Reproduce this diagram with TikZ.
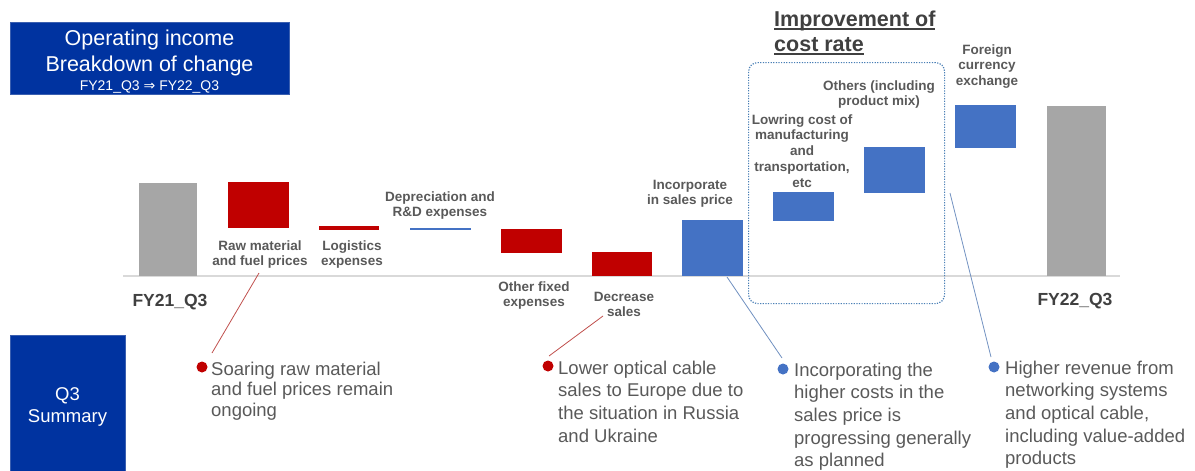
\documentclass[tikz,border=0pt]{standalone}
\usepackage{fontspec}
\setmainfont{Liberation Sans}
\newfontfamily\symfont{DejaVu Sans}
\definecolor{titleblue}{HTML}{0033A0}
\definecolor{titleedge}{HTML}{3A5FB0}
\definecolor{barred}{HTML}{C00000}
\definecolor{barblue}{HTML}{4472C4}
\definecolor{bargray}{HTML}{A6A6A6}
\definecolor{lblgray}{HTML}{595959}
\definecolor{darkgray}{HTML}{404040}
\definecolor{axisgray}{HTML}{D9D9D9}
\definecolor{dotblue}{HTML}{4A7FB5}
\definecolor{leadred}{HTML}{C0504D}
\definecolor{leadblue}{HTML}{7090C0}
\newcommand\ulx[1]{\setbox0\hbox{#1}\rlap{\vrule height -2.2pt depth 3.8pt width \wd0}\box0}
\begin{document}
\begin{tikzpicture}[x=1pt,y=-1pt,
  bar/.style={inner sep=0pt, outer sep=0pt, draw=none, anchor=north west},
  lbl/.style={anchor=base, align=center, text=lblgray, inner sep=0pt, font=\fontsize{13.5}{15.8}\selectfont\bfseries},
  fylbl/.style={anchor=base, text=darkgray, inner sep=0pt, font=\fontsize{17.5}{20}\selectfont\bfseries},
  bodytxt/.style={anchor=base west, align=left, text=lblgray, inner sep=0pt},
  bluebox/.style={fill=titleblue, draw=titleedge, line width=0.8pt, inner sep=0pt, outer sep=0pt, anchor=north west},
  dotred/.style={circle, fill=barred, inner sep=0pt, minimum size=11pt},
  dotblu/.style={circle, fill=barblue, inner sep=0pt, minimum size=11pt},
  leaderred/.style={draw=leadred, line width=0.8pt},
  leaderblue/.style={draw=leadblue, line width=0.8pt}
]
\useasboundingbox (0,0) rectangle (1195,471);

% title box
\node[bluebox, minimum width=279pt, minimum height=72pt] (title) at (10,22) {};
\node[anchor=base, align=center, text=white, inner sep=0pt, font=\fontsize{21.5}{26}\selectfont] (titletext) at (149.5,71) {Operating income\\Breakdown of change};
\node[anchor=base, text=white, inner sep=0pt, font=\fontsize{14}{16}\selectfont] (titlesub) at (149.5,90) {FY21\_Q3 {\symfont ⇒} FY22\_Q3};

% axis
\coordinate (axL) at (123,276);
\coordinate (axR) at (1120,276);
\draw[axisgray, line width=1.5pt] (axL) -- (axR);

% bars
\node[bar, fill=bargray, minimum width=58pt, minimum height=93pt] (fy21) at (139,183) {};
\node[bar, fill=barred, minimum width=61pt, minimum height=46pt] (raw) at (228,182) {};
\node[bar, fill=barred, minimum width=60pt, minimum height=3.5pt] (logi) at (319,226) {};
\node[bar, fill=barblue, minimum width=61pt, minimum height=2pt] (depr) at (410,228) {};
\node[bar, fill=barred, minimum width=61pt, minimum height=24pt] (other) at (501,229) {};
\node[bar, fill=barred, minimum width=60pt, minimum height=24pt] (decr) at (592,252) {};
\node[bar, fill=barblue, minimum width=61pt, minimum height=56pt] (incorp) at (682,220) {};
\node[bar, fill=barblue, minimum width=61pt, minimum height=29pt] (lowr) at (773,192) {};
\node[bar, fill=barblue, minimum width=61pt, minimum height=46pt] (others) at (864,147) {};
\node[bar, fill=barblue, minimum width=61pt, minimum height=43pt] (forex) at (955,105) {};
\node[bar, fill=bargray, minimum width=59pt, minimum height=170pt] (fy22) at (1047,106) {};

% dotted box
\node[draw=dotblue, line width=1.2pt, dash pattern=on 1.2pt off 1.4pt, rounded corners=9pt, inner sep=0pt, anchor=north west, minimum width=196pt, minimum height=241pt] (impbox) at (748,62) {};
\node[anchor=base west, align=left, text=darkgray, inner sep=0pt, font=\fontsize{21.5}{25}\selectfont\bfseries] (imptitle) at (774,51) {\ulx{Improvement of}\\\ulx{cost rate}};

% bar labels (anchor base = baseline of last line)
\node[lbl] (rawlbl) at (260,265.8) {Raw material\\and fuel prices};
\node[lbl] (logilbl) at (352,265.8) {Logistics\\expenses};
\node[lbl] (deprlbl) at (440,216.8) {Depreciation and\\R\&D expenses};
\node[lbl] (otherlbl) at (534,306.8) {Other fixed\\expenses};
\node[lbl] (decrlbl) at (624,316.8) {Decrease\\sales};
\node[lbl] (incorplbl) at (690,204.8) {Incorporate\\in sales price};
\node[lbl] (lowrlbl) at (802,187.2) {Lowring cost of\\manufacturing\\and\\transportation,\\etc};
\node[lbl] (otherslbl) at (879,105.8) {Others (including\\product mix)};
\node[lbl] (forexlbl) at (987,85.6) {Foreign\\currency\\exchange};
\node[fylbl] (fy21lbl) at (170,306) {FY21\_Q3};
\node[fylbl] (fy22lbl) at (1075,305) {FY22\_Q3};

% summary box
\node[bluebox, minimum width=115pt, minimum height=137pt] (q3box) at (10,335) {};
\node[anchor=base, align=center, text=white, inner sep=0pt, font=\fontsize{18.5}{22}\selectfont] (q3text) at (67.5,422) {Q3\\Summary};

% bullets and texts
\node[dotred] (b1) at (202,367) {};
\node[dotred] (b2) at (548,366) {};
\node[dotblu] (b3) at (783,369) {};
\node[dotblu] (b4) at (994,367) {};
\node[bodytxt, font=\fontsize{18.5}{20.5}\selectfont] (t1) at (211,416) {Soaring raw material\\and fuel prices remain\\ongoing};
\node[bodytxt, font=\fontsize{18.5}{22.7}\selectfont] (t2) at (558,442.1) {Lower optical cable\\sales to Europe due to\\the situation in Russia\\and Ukraine};
\node[bodytxt, font=\fontsize{18.5}{22.7}\selectfont] (t3) at (794,466.8) {Incorporating the\\higher costs in the\\sales price is\\progressing generally\\as planned};
\node[bodytxt, font=\fontsize{18.5}{22.7}\selectfont] (t4) at (1005,464.8) {Higher revenue from\\networking systems\\and optical cable,\\including value-added\\products};

% leader lines
\coordinate (l1a) at (259,273);
\coordinate (l1b) at (212,353);
\coordinate (l2a) at (603,316);
\coordinate (l2b) at (549,356);
\coordinate (l3a) at (727,277);
\coordinate (l3b) at (782,358);
\coordinate (l4a) at (950,193);
\coordinate (l4b) at (991,357);
\draw[leaderred] (l1a) -- (l1b);
\draw[leaderred] (l2a) -- (l2b);
\draw[leaderblue] (l3a) -- (l3b);
\draw[leaderblue] (l4a) -- (l4b);
\end{tikzpicture}
\end{document}
